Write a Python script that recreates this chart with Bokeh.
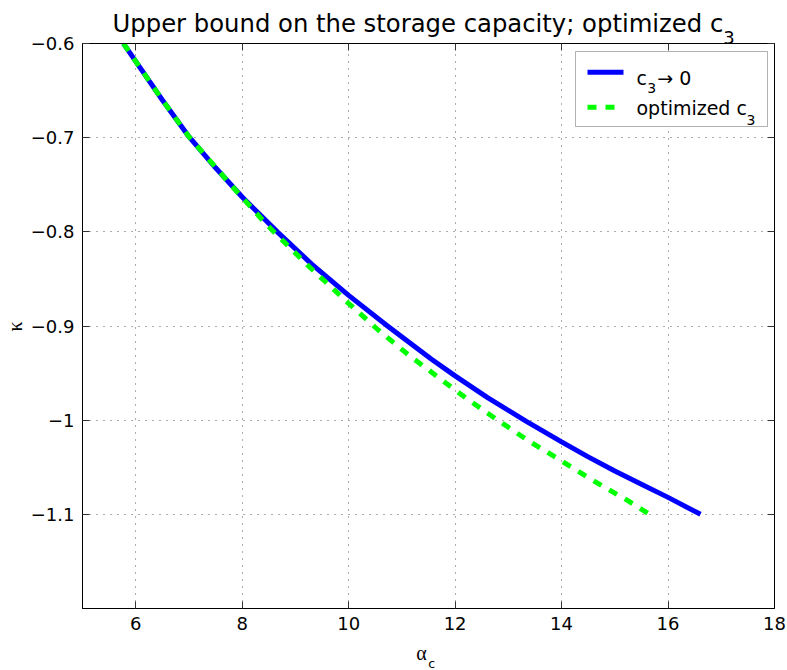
import math
from bokeh.plotting import figure
from bokeh.models import Range1d, FixedTicker, LinearAxis, Label, BoxAnnotation, Arrow
from bokeh.embed import file_html
from bokeh.resources import INLINE

# ---- data ----
alpha_c3_zero = [5.77, 6.0, 6.5, 7.0, 7.5, 8.0, 8.66, 9.3, 10.0, 10.73, 11.55, 12.0,
                 12.61, 13.33, 14.0, 14.5, 15.0, 15.5, 16.0, 16.61]
kappa_c3_zero = [-0.600, -0.619, -0.660, -0.699, -0.732, -0.763, -0.800, -0.834, -0.8675,
                 -0.900, -0.935, -0.953, -0.976, -1.001, -1.023, -1.039, -1.054, -1.068,
                 -1.082, -1.100]

alpha_opt = [5.77, 6.0, 6.5, 7.0, 7.77, 8.47, 9.24, 10.02, 10.55, 11.11, 11.67, 12.24,
             12.80, 13.41, 14.02, 14.62, 15.23, 15.65]
kappa_opt = [-0.600, -0.619, -0.660, -0.699, -0.749, -0.793, -0.836, -0.877, -0.904,
             -0.930, -0.954, -0.978, -1.000, -1.023, -1.044, -1.065, -1.085, -1.100]

x_ticks = [6, 8, 10, 12, 14, 16, 18]
x_tick_labels = ["6", "8", "10", "12", "14", "16", "18"]
y_ticks = [-1.1, -1.0, -0.9, -0.8, -0.7, -0.6]
y_tick_labels = ["\u22121.1", "\u22121", "\u22120.9", "\u22120.8", "\u22120.7", "\u22120.6"]

title_main = "Upper bound on the storage capacity; optimized c"
title_sub = "3"
legend_1 = ["c", "3", "\u2192 0"]
legend_2 = ["optimized c", "3"]
x_label = ["\u03b1", "c"]
y_label = "\u03ba"

X0, X1, Y0, Y1 = 5, 18, -1.2, -0.6
FONT = "DejaVu Sans"
FL, FT, FR, FB = 82, 43, 774, 608   # frame edges in page pixels

p = figure(width=787, height=670, output_backend="svg", toolbar_location=None,
           x_range=Range1d(X0, X1), y_range=Range1d(Y0, Y1), title=None,
           min_border_left=FL, min_border_right=787 - FR, min_border_top=FT,
           min_border_bottom=670 - FB, background_fill_color="white",
           border_fill_color="white")
p.outline_line_color = "black"
p.outline_line_width = 1

xt = FixedTicker(ticks=x_ticks)
yt = FixedTicker(ticks=y_ticks)

for ax, t, labs in [(p.xaxis[0], xt, x_tick_labels), (p.yaxis[0], yt, y_tick_labels)]:
    ax.ticker = t
    ax.major_label_overrides = {k: v for k, v in zip(t.ticks, labs)}
    ax.major_tick_in = 7
    ax.major_tick_out = 0
    ax.major_tick_line_color = "#333333"
    ax.minor_tick_line_color = None
    ax.axis_line_color = "black"
    ax.major_label_text_font = FONT
    ax.major_label_text_font_size = "18px"
    ax.major_label_text_color = "black"
    ax.major_label_standoff = 8

for loc, t in [("above", xt), ("right", yt)]:
    ax = LinearAxis(ticker=t, major_tick_in=7, major_tick_out=0,
                    major_tick_line_color="#333333", minor_tick_line_color=None,
                    axis_line_color="black", major_label_text_font_size="0px",
                    major_label_text_color=None, major_label_standoff=0)
    p.add_layout(ax, loc)

p.xgrid.ticker = xt
p.ygrid.ticker = yt
for g in (p.xgrid[0], p.ygrid[0]):
    g.grid_line_color = "#222222"
    g.grid_line_alpha = 0.75
    g.grid_line_dash = "1 6"
    g.grid_line_width = 1

p.line(alpha_c3_zero, kappa_c3_zero, line_color="#0000ff", line_width=5,
       line_join="round")
p.line(alpha_opt, kappa_opt, line_color="#00ff00", line_width=5, line_dash="9 9")

# page pixel -> frame-relative screen units (for annotations inside the frame)
def sx(px):
    return px - FL
def sy(py):
    return FB - py

# page pixel -> data units (for labels placed in the side panels)
def dx(px):
    return X0 + (px - FL) * (X1 - X0) / (FR - FL)
def dy(py):
    return Y1 - (py - FT) * (Y1 - Y0) / (FB - FT)

def lab(text, px, py, size, font=FONT, **kw):
    p.add_layout(Label(x=sx(px), y=sy(py), x_units="screen", y_units="screen",
                       text=text, text_font=font, text_font_size=size,
                       text_color="black", text_baseline=kw.pop("baseline", "alphabetic"),
                       text_align=kw.pop("align", "left"), **kw))

def side(text, px, py, size, where, font=FONT, **kw):
    p.add_layout(Label(x=dx(px), y=dy(py), text=text, text_font=font,
                       text_font_size=size, text_color="black",
                       text_baseline=kw.pop("baseline", "alphabetic"),
                       text_align=kw.pop("align", "left"), **kw), where)

# title
side(title_main, 112, 22.7, "24.3px", "above")
side(title_sub, 722.7, 36.7, "18px", "above")

# legend
p.add_layout(BoxAnnotation(left=sx(575), right=sx(767), top=sy(51), bottom=sy(126),
                           left_units="screen", right_units="screen",
                           top_units="screen", bottom_units="screen",
                           fill_color="white", fill_alpha=1.0,
                           line_color="black", line_width=1))
p.add_layout(Arrow(end=None, x_start=sx(587), y_start=sy(71.7), x_end=sx(623), y_end=sy(71.7),
                   start_units="screen", end_units="screen",
                   line_color="#0000ff", line_width=5))
p.add_layout(Arrow(end=None, x_start=sx(587), y_start=sy(106.7), x_end=sx(623), y_end=sy(106.7),
                   start_units="screen", end_units="screen",
                   line_color="#00ff00", line_width=5, line_dash="9 9"))
lab(legend_1[0], 636, 77, "19px")
lab(legend_1[1], 646.7, 87, "14px")
lab(legend_1[2], 656.7, 77, "19px")
lab(legend_2[0], 636, 107.3, "19px")
lab(legend_2[1], 746, 119.3, "14px")

# axis labels
side(x_label[0], 415.7, 652.5, "20px", "below", font="Liberation Serif")
side(x_label[1], 427.7, 662.5, "12.5px", "below")
side(y_label, 14, 326, "20px", "left", font="Liberation Serif", angle=math.pi / 2,
     align="center", baseline="middle")

open("out.html", "w").write(file_html(p, INLINE))
